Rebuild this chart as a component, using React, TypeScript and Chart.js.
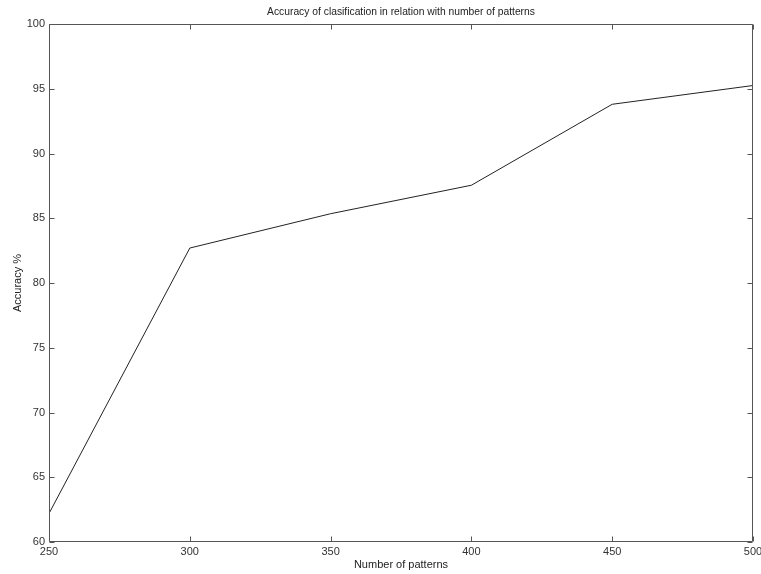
import React, { useEffect, useRef } from "react";
import { Chart, registerables } from "chart.js";

Chart.register(...registerables);

const patterns = [250, 300, 350, 400, 450, 500];
const accuracy = [62.2, 82.7, 85.35, 87.55, 93.8, 95.25];
const xTicks = [250, 300, 350, 400, 450, 500];
const yTicks = [60, 65, 70, 75, 80, 85, 90, 95, 100];

const titleText = "Accuracy of clasification in relation with number of patterns";
const xLabel = "Number of patterns";
const yLabel = "Accuracy %";

const FONT = "'Liberation Sans', Arial, Helvetica, sans-serif";

// MATLAB-style axes box with inward ticks on every side, plus the text labels.
const framePlugin = {
  id: "matlabFrame",
  afterDatasetsDraw(chart: any) {
    const { ctx, chartArea } = chart;
    const xs = chart.scales.x;
    const ys = chart.scales.y;
    const l = Math.round(chartArea.left) + 0.5;
    const r = Math.round(chartArea.right) - 0.5;
    const t = Math.round(chartArea.top) + 0.5;
    const b = Math.round(chartArea.bottom) - 0.5;
    const tl = 5;
    ctx.save();
    ctx.strokeStyle = "#555";
    ctx.lineWidth = 1;
    ctx.beginPath();
    ctx.rect(l, t, r - l, b - t);
    for (const v of xTicks) {
      const px = Math.round(xs.getPixelForValue(v)) + 0.5;
      ctx.moveTo(px, b);
      ctx.lineTo(px, b - tl);
      ctx.moveTo(px, t);
      ctx.lineTo(px, t + tl);
    }
    for (const v of yTicks) {
      const py = Math.round(ys.getPixelForValue(v)) + 0.5;
      ctx.moveTo(l, py);
      ctx.lineTo(l + tl, py);
      ctx.moveTo(r, py);
      ctx.lineTo(r - tl, py);
    }
    ctx.stroke();

    ctx.fillStyle = "#222";
    ctx.textAlign = "center";
    ctx.textBaseline = "middle";
    const cx = (chartArea.left + chartArea.right) / 2;
    ctx.font = `10.3px ${FONT}`;
    ctx.fillText(titleText, cx, 12);
    ctx.font = `11px ${FONT}`;
    ctx.fillText(xLabel, cx, 565);
    ctx.translate(18, (chartArea.top + chartArea.bottom) / 2);
    ctx.rotate(-Math.PI / 2);
    ctx.fillText(yLabel, 0, 0);
    ctx.restore();
  },
};

export default function App() {
  const canvasRef = useRef<HTMLCanvasElement | null>(null);

  useEffect(() => {
    document.body.style.margin = "0";
    const canvas = canvasRef.current;
    if (!canvas) return;
    const chart = new Chart(canvas, {
      type: "line",
      data: {
        datasets: [
          {
            data: patterns.map((p, i) => ({ x: p, y: accuracy[i] })),
            borderColor: "#222",
            borderWidth: 1,
            pointRadius: 0,
            tension: 0,
            fill: false,
          },
        ],
      },
      options: {
        animation: false,
        responsive: false,
        devicePixelRatio: 1,
        layout: { padding: { top: 24, right: 8, left: 0, bottom: 0 } },
        plugins: {
          legend: { display: false },
          tooltip: { enabled: false },
          title: { display: false },
        },
        scales: {
          x: {
            type: "linear",
            min: 250,
            max: 500,
            grid: { display: false, drawTicks: false },
            border: { display: false },
            afterBuildTicks: (s: any) => {
              s.ticks = xTicks.map((v) => ({ value: v }));
            },
            ticks: {
              color: "#333",
              font: { family: FONT, size: 11 },
              padding: 3,
              maxRotation: 0,
              autoSkip: false,
            },
            afterFit: (s: any) => {
              s.height = 32;
              s.paddingLeft = 0;
              s.paddingRight = 0;
            },
          },
          y: {
            type: "linear",
            min: 60,
            max: 100,
            grid: { display: false, drawTicks: false },
            border: { display: false },
            afterBuildTicks: (s: any) => {
              s.ticks = yTicks.map((v) => ({ value: v }));
            },
            ticks: {
              color: "#333",
              font: { family: FONT, size: 11 },
              padding: 4,
              autoSkip: false,
            },
            afterFit: (s: any) => {
              s.width = 49;
              s.paddingTop = 0;
              s.paddingBottom = 0;
            },
          },
        },
      },
      plugins: [framePlugin],
    });
    return () => chart.destroy();
  }, []);

  return (
    <div style={{ width: 761, height: 574, background: "#fff" }}>
      <canvas ref={canvasRef} width={761} height={574} style={{ display: "block" }} />
    </div>
  );
}
